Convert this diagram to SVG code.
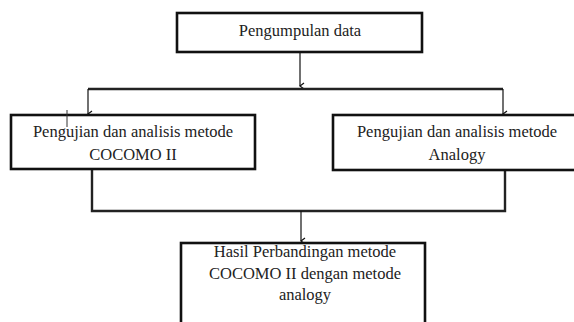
<svg xmlns="http://www.w3.org/2000/svg" width="574" height="322" viewBox="0 0 574 322">
<style>
.box{fill:#fff;stroke:#111;stroke-width:2.6}
.t{font-family:"Liberation Serif","Times New Roman",serif;font-size:16.5px;fill:#222;text-anchor:middle}
.thick{fill:none;stroke:#222;stroke-width:2.4}
.arr{fill:none;stroke:#111;stroke-width:1.2;marker-end:url(#ah)}
.tick{stroke:#333;stroke-width:1}
</style>
<defs>
<marker id="ah" markerWidth="8" markerHeight="8" refX="4" refY="6" orient="auto-start-reverse" markerUnits="userSpaceOnUse" viewBox="0 0 8 8">
<path d="M1,2 L4,6 L7,2" fill="none" stroke="#111" stroke-width="1.2"/>
</marker>
</defs>
<rect width="574" height="322" fill="#fff"/>
<g id="connectors">
<line class="arr" x1="300" y1="53" x2="300" y2="86" transform="rotate(0)"/>
<path class="thick" d="M88,89 H503"/>
<line class="arr" x1="88" y1="89" x2="88" y2="114"/>
<line class="arr" x1="503" y1="89" x2="503" y2="114"/>
<path class="thick" d="M92,170 V211 H505 V170"/>
<line class="arr" x1="301" y1="211" x2="301" y2="241"/>
</g>
<g id="n1">
<rect class="box" x="177" y="13" width="245" height="39"/>
<text class="t" x="300" y="36">Pengumpulan data</text>
</g>
<g id="n2">
<rect class="box" x="11" y="115" width="244" height="54"/>
<text class="t" x="133" y="137">Pengujian dan analisis metode</text>
<text class="t" x="133" y="160">COCOMO II</text>
<line class="tick" x1="67" y1="110" x2="67" y2="127"/>
</g>
<g id="n3">
<rect class="box" x="333" y="115" width="248" height="55"/>
<text class="t" x="457" y="137">Pengujian dan analisis metode</text>
<text class="t" x="457" y="160">Analogy</text>
</g>
<g id="n4">
<rect class="box" x="181" y="243" width="244" height="90"/>
<text class="t" x="305" y="257">Hasil Perbandingan metode</text>
<text class="t" x="305" y="279">COCOMO II dengan metode</text>
<text class="t" x="305" y="300">analogy</text>
</g>
</svg>
